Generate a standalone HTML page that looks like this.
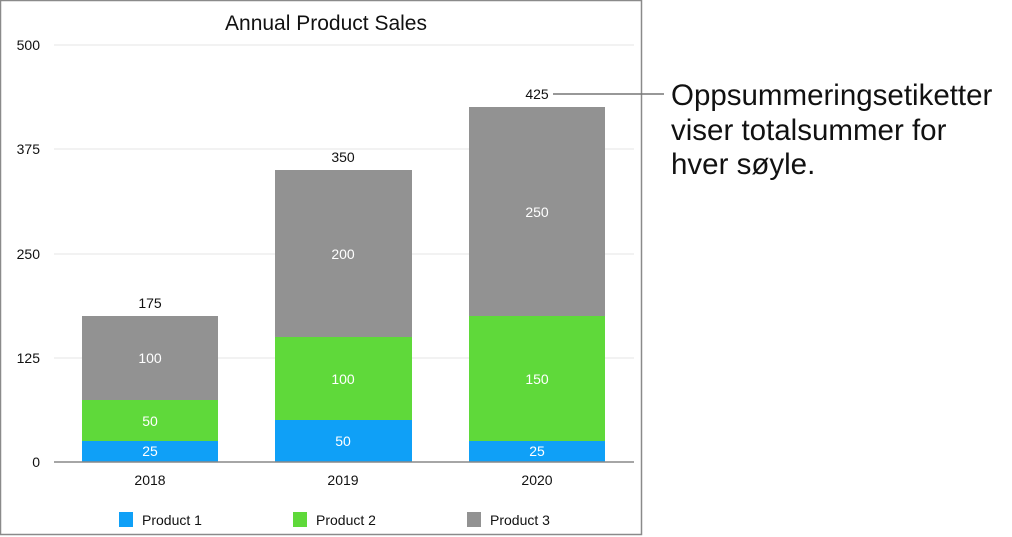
<!DOCTYPE html>
<html><head><meta charset="utf-8"><style>
html,body{margin:0;padding:0;background:#fff;}
body{width:1012px;height:537px;overflow:hidden;position:relative;}
svg{position:absolute;left:0;top:0;}
</style></head><body>
<svg width="1012" height="537" viewBox="0 0 1012 537" font-family="'Liberation Sans', sans-serif">
<rect x="0.5" y="0.5" width="641" height="534" fill="#fff" stroke="#8a8a8a" stroke-width="1.5"/>
<text x="326" y="30" text-anchor="middle" font-size="21" fill="#111">Annual Product Sales</text>
<g stroke="#e6e6e6" stroke-width="1">
<line x1="54" y1="45" x2="634" y2="45"/>
<line x1="54" y1="149" x2="634" y2="149"/>
<line x1="54" y1="254" x2="634" y2="254"/>
<line x1="54" y1="358" x2="634" y2="358"/>
</g>
<g font-size="14" fill="#111" text-anchor="end">
<text x="40" y="50">500</text>
<text x="40" y="154">375</text>
<text x="40" y="259">250</text>
<text x="40" y="363">125</text>
<text x="40" y="467">0</text>
</g>
<rect x="82" y="441" width="136" height="21" fill="#0fa0f7"/>
<rect x="82" y="400" width="136" height="41" fill="#5fd93a"/>
<rect x="82" y="316" width="136" height="84" fill="#929292"/>
<rect x="275" y="420" width="137" height="42" fill="#0fa0f7"/>
<rect x="275" y="337" width="137" height="83" fill="#5fd93a"/>
<rect x="275" y="170" width="137" height="167" fill="#929292"/>
<rect x="469" y="441" width="136" height="21" fill="#0fa0f7"/>
<rect x="469" y="316" width="136" height="125" fill="#5fd93a"/>
<rect x="469" y="107" width="136" height="209" fill="#929292"/>
<line x1="54" y1="462" x2="634" y2="462" stroke="#888" stroke-width="1.5"/>
<g font-size="14" fill="#fff" text-anchor="middle">
<text x="150" y="456">25</text><text x="150" y="426">50</text><text x="150" y="363">100</text>
<text x="343" y="446">50</text><text x="343" y="384">100</text><text x="343" y="259">200</text>
<text x="537" y="456">25</text><text x="537" y="384">150</text><text x="537" y="217">250</text>
</g>
<g font-size="14" fill="#111" text-anchor="middle">
<text x="150" y="308">175</text><text x="343" y="162">350</text><text x="537" y="99">425</text>
<text x="150" y="485">2018</text><text x="343" y="485">2019</text><text x="537" y="485">2020</text>
</g>
<rect x="119" y="512" width="14" height="15" fill="#0fa0f7"/>
<rect x="293" y="512" width="14" height="15" fill="#5fd93a"/>
<rect x="467" y="512" width="14" height="15" fill="#929292"/>
<g font-size="14" fill="#111">
<text x="142" y="525">Product 1</text><text x="316" y="525">Product 2</text><text x="490" y="525">Product 3</text>
</g>
<line x1="553" y1="94" x2="664" y2="94" stroke="#777" stroke-width="1.5"/>
<g font-size="29.5" fill="#111">
<text x="671" y="105">Oppsummeringsetiketter</text>
<text x="671" y="140">viser totalsummer for</text>
<text x="671" y="174">hver søyle.</text>
</g>
</svg>
</body></html>
